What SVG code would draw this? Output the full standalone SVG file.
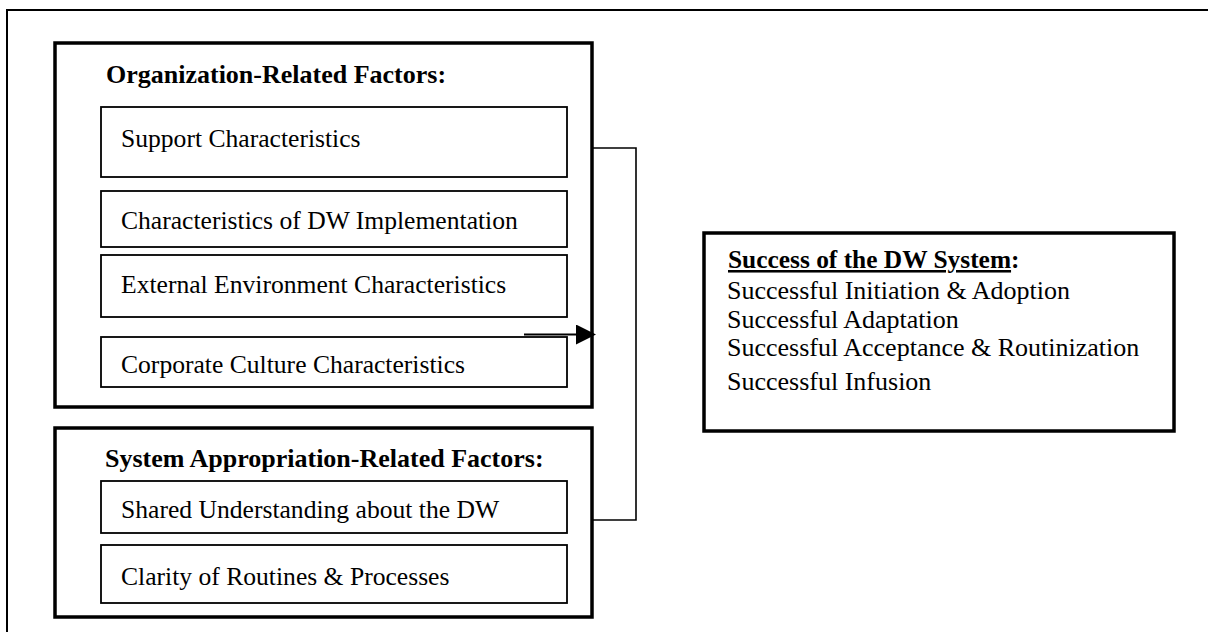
<svg xmlns="http://www.w3.org/2000/svg" width="1208" height="632" viewBox="0 0 1208 632">
<defs>
<style>
.frame{fill:none;stroke:#000;stroke-width:2}
.group{fill:#fff;stroke:#000;stroke-width:3.5}
.item{fill:#fff;stroke:#000;stroke-width:1.8}
.conn{fill:none;stroke:#000;stroke-width:1.6}
.t{font-family:"Liberation Serif","Times New Roman",serif;font-size:25.6px;fill:#000}
.h{font-family:"Liberation Serif","Times New Roman",serif;font-size:26px;font-weight:bold;fill:#000}
.r{font-family:"Liberation Serif","Times New Roman",serif;font-size:26px;fill:#000}
</style>
<marker id="arr" markerUnits="userSpaceOnUse" markerWidth="20" markerHeight="20" viewBox="0 0 18 18" refX="0" refY="9" orient="auto">
<path d="M0,0 L18,9 L0,18 Z" fill="#000"/>
</marker>
</defs>
<rect x="0" y="0" width="1208" height="632" fill="#fff"/>
<rect class="frame" x="7" y="10" width="1230" height="650"/>

<g id="org-factors">
<rect class="group" x="55" y="43" width="537" height="364"/>
<text class="h" x="106" y="83">Organization-Related Factors:</text>
</g>
<g id="support">
<rect class="item" x="101" y="107" width="466" height="70"/>
<text class="t" x="121" y="147">Support Characteristics</text>
</g>
<g id="dw-implementation">
<rect class="item" x="101" y="191" width="466" height="56"/>
<text class="t" x="121" y="229">Characteristics of DW Implementation</text>
</g>
<g id="external-environment">
<rect class="item" x="101" y="255" width="466" height="62"/>
<text class="t" x="121" y="293">External Environment Characteristics</text>
</g>
<g id="corporate-culture">
<rect class="item" x="101" y="337" width="466" height="50"/>
<text class="t" x="121" y="373">Corporate Culture Characteristics</text>
</g>

<g id="system-appropriation">
<rect class="group" x="55" y="428" width="537" height="189"/>
<text class="h" x="105" y="467">System Appropriation-Related Factors:</text>
</g>
<g id="shared-understanding">
<rect class="item" x="101" y="481" width="466" height="52"/>
<text class="t" x="121" y="518">Shared Understanding about the DW</text>
</g>
<g id="clarity-routines">
<rect class="item" x="101" y="545" width="466" height="58"/>
<text class="t" x="121" y="585">Clarity of Routines &amp; Processes</text>
</g>

<g id="dw-success">
<rect class="group" x="704" y="233" width="470" height="198"/>
<text class="h" x="728" y="268" style="font-size:25.4px"><tspan style="text-decoration:underline">Success of the DW System</tspan>:</text>
<text class="r" x="727" y="299">Successful Initiation &amp; Adoption</text>
<text class="r" x="727" y="328">Successful Adaptation</text>
<text class="r" x="727" y="356">Successful Acceptance &amp; Routinization</text>
<text class="r" x="727" y="390">Successful Infusion</text>
</g>

<g id="connectors">
<polyline class="conn" points="592,148 636,148 636,520 592,520"/>
<line x1="524" y1="334.5" x2="576" y2="334.5" stroke="#000" stroke-width="2.2" marker-end="url(#arr)"/>
</g>
</svg>
